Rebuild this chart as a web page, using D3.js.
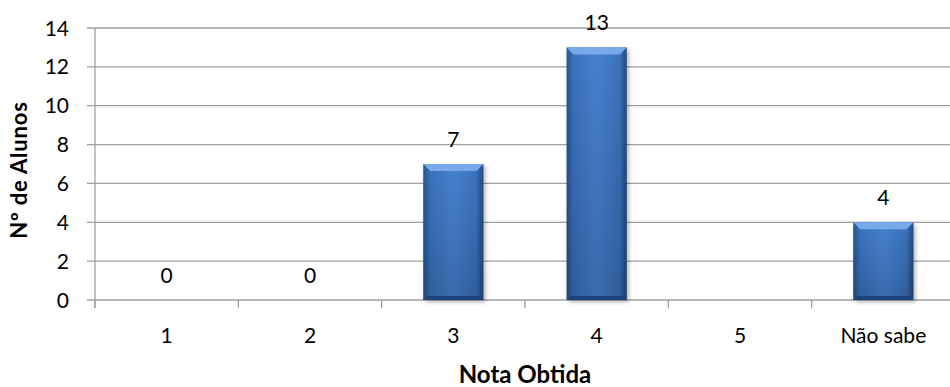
<!DOCTYPE html>
<html>
<head>
<meta charset="utf-8">
<script src="https://cdn.jsdelivr.net/npm/d3@7"></script>
<style>
  body { margin: 0; background: #fff; }
  text { font-family: Lato, "Open Sans", sans-serif; fill: #000; }
</style>
</head>
<body>
<div id="chart"></div>
<script>
// chart data
const categories = ["1", "2", "3", "4", "5", "Não sabe"]
const values = [0, 0, 7, 13, 0, 4]
const labels = ["0", "0", "7", "13", null, "4"]
const yTicks = [0, 2, 4, 6, 8, 10, 12, 14]

const width = 950, height = 387
const margin = {left: 95, right: -5, top: 28, bottom: 87}

const svg = d3.select("#chart").append("svg")
    .attr("width", width)
    .attr("height", height)

const x = d3.scaleBand()
    .domain(categories)
    .range([margin.left, width - margin.right])
    .paddingInner(0.58)
    .paddingOuter(0.29)

const y = d3.scaleLinear()
    .domain([0, 14])
    .range([height - margin.bottom, margin.top])

// gradients for the bevelled bars
const defs = svg.append("defs")
const grad = defs.append("linearGradient").attr("id", "barGrad")
    .attr("x1", 0).attr("x2", 1).attr("y1", 0).attr("y2", 0)
grad.append("stop").attr("offset", "0%").attr("stop-color", "#24548f")
grad.append("stop").attr("offset", "12%").attr("stop-color", "#3b73bd")
grad.append("stop").attr("offset", "50%").attr("stop-color", "#4582cf")
grad.append("stop").attr("offset", "88%").attr("stop-color", "#3b73bd")
grad.append("stop").attr("offset", "100%").attr("stop-color", "#1f4a80")

const vgrad = defs.append("linearGradient").attr("id", "barShade")
    .attr("x1", 0).attr("x2", 0).attr("y1", 0).attr("y2", 1)
vgrad.append("stop").attr("offset", "0%").attr("stop-color", "#000").attr("stop-opacity", 0)
vgrad.append("stop").attr("offset", "100%").attr("stop-color", "#000").attr("stop-opacity", 0.18)

const blur = defs.append("filter").attr("id", "shadow")
    .attr("x", "-20%").attr("y", "-20%").attr("width", "140%").attr("height", "140%")
blur.append("feGaussianBlur").attr("stdDeviation", 2)

// gridlines
svg.append("g")
    .selectAll("line")
    .data(yTicks)
    .join("line")
        .attr("x1", margin.left - 8)
        .attr("x2", width)
        .attr("y1", d => y(d))
        .attr("y2", d => y(d))
        .attr("stroke", "#a0a0a0")
        .attr("stroke-width", 1.3)

// y axis line
svg.append("line")
    .attr("x1", margin.left).attr("x2", margin.left)
    .attr("y1", y(14)).attr("y2", y(0) + 8)
    .attr("stroke", "#a0a0a0").attr("stroke-width", 1.3)

// category boundary ticks
const step = x.step()
const bounds = d3.range(categories.length + 1).map(i => margin.left + i * step)
svg.append("g")
    .selectAll("line")
    .data(bounds)
    .join("line")
        .attr("x1", d => d).attr("x2", d => d)
        .attr("y1", y(0)).attr("y2", y(0) + 8)
        .attr("stroke", "#a0a0a0").attr("stroke-width", 1.3)

// y tick labels
svg.append("g")
    .selectAll("text")
    .data(yTicks)
    .join("text")
        .attr("x", 69)
        .attr("y", d => y(d) + 7.5)
        .attr("text-anchor", "end")
        .style("font-size", "21px")
        .text(d => d)

// x tick labels
svg.append("g")
    .selectAll("text")
    .data(categories)
    .join("text")
        .attr("x", d => x(d) + x.bandwidth() / 2)
        .attr("y", 343)
        .attr("text-anchor", "middle")
        .style("font-size", "21px")
        .text(d => d)

// bars
const bars = svg.append("g")
    .selectAll("g")
    .data(values.map((v, i) => ({cat: categories[i], v: v})).filter(d => d.v > 0))
    .join("g")

bars.append("rect")
    .attr("x", d => x(d.cat) + 2)
    .attr("y", d => y(d.v) + 2)
    .attr("width", x.bandwidth())
    .attr("height", d => y(0) - y(d.v))
    .attr("fill", "#000")
    .attr("opacity", 0.3)
    .attr("filter", "url(#shadow)")

bars.append("rect")
    .attr("x", d => x(d.cat))
    .attr("y", d => y(d.v))
    .attr("width", x.bandwidth())
    .attr("height", d => y(0) - y(d.v))
    .attr("fill", "url(#barGrad)")

bars.append("rect")
    .attr("x", d => x(d.cat))
    .attr("y", d => y(d.v))
    .attr("width", x.bandwidth())
    .attr("height", d => y(0) - y(d.v))
    .attr("fill", "url(#barShade)")

// top bevel
bars.append("polygon")
    .attr("points", d => {
        const x0 = x(d.cat), x1 = x0 + x.bandwidth(), t = y(d.v), b = 7
        return [[x0, t], [x1, t], [x1 - b, t + b], [x0 + b, t + b]].join(" ")
    })
    .attr("fill", "#78aaea")

// bottom bevel
bars.append("polygon")
    .attr("points", d => {
        const x0 = x(d.cat), x1 = x0 + x.bandwidth(), bt = y(0), b = 4
        return [[x0, bt], [x1, bt], [x1 - b, bt - b], [x0 + b, bt - b]].join(" ")
    })
    .attr("fill", "#1d4478")

// value labels
svg.append("g")
    .selectAll("text")
    .data(values.map((v, i) => ({cat: categories[i], v: v, label: labels[i]})).filter(d => d.label !== null))
    .join("text")
        .attr("x", d => x(d.cat) + x.bandwidth() / 2)
        .attr("y", d => y(d.v) - 17)
        .attr("text-anchor", "middle")
        .style("font-size", "21px")
        .text(d => d.label)

// axis titles
svg.append("text")
    .attr("x", (margin.left + width - margin.right) / 2)
    .attr("y", 383)
    .attr("text-anchor", "middle")
    .style("font-size", "24px")
    .style("font-weight", "bold")
    .text("Nota Obtida")

svg.append("text")
    .attr("transform", "translate(27,170) rotate(-90)")
    .attr("text-anchor", "middle")
    .style("font-size", "22px")
    .style("font-weight", "bold")
    .style("letter-spacing", "0.8px")
    .text("Nº de Alunos")
</script>
</body>
</html>
